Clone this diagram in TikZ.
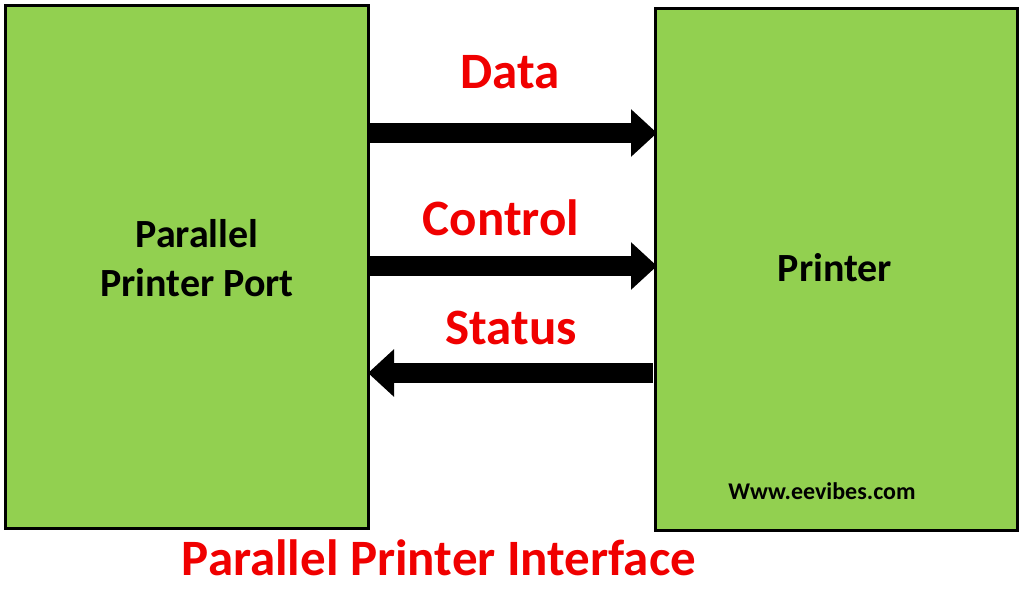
\documentclass[tikz,border=0pt]{standalone}
\usepackage{fontspec}
\setmainfont{Carlito}
\usetikzlibrary{arrows.meta}
\definecolor{boxgreen}{RGB}{146,208,80}
\definecolor{lblred}{RGB}{240,0,0}
\begin{document}
\begin{tikzpicture}[x=1pt,y=-1pt,
  blk/.style={draw=black,line width=3pt,fill=boxgreen,inner sep=0pt},
  bus/.style={line width=20pt,-{Triangle[length=26pt,width=46pt]}},
  lbl/.style={text=lblred,font=\bfseries\fontsize{51}{56}\selectfont}]
\useasboundingbox (0,0) rectangle (1024,614);
\node[blk,minimum width=363pt,minimum height=523pt] (L) at (186.5,266.5) {};
\node[blk,minimum width=362pt,minimum height=522pt] (R) at (836,269) {};
\node[align=center,font=\bfseries\fontsize{40}{49}\selectfont] (lt) at (197,258) {Parallel\\Printer Port};
\node[font=\bfseries\fontsize{40}{44}\selectfont] (rt) at (835,268) {Printer};
\node[font=\bfseries\fontsize{24}{28}\selectfont] (w) at (822,491) {Www.eevibes.com};
\coordinate (d1) at (370,133); \coordinate (d2) at (657,133);
\coordinate (c1) at (370,266); \coordinate (c2) at (657,266);
\coordinate (s1) at (653,373); \coordinate (s2) at (368,373);
\draw[bus] (d1) -- (d2);
\draw[bus] (c1) -- (c2);
\draw[bus] (s1) -- (s2);
\node[lbl] (dl) at (510,72) {Data};
\node[lbl] (cl) at (501,218) {Control};
\node[lbl] (sl) at (511,328) {Status};
\node[lbl] (t) at (439,558) {Parallel Printer Interface};
\end{tikzpicture}
\end{document}
